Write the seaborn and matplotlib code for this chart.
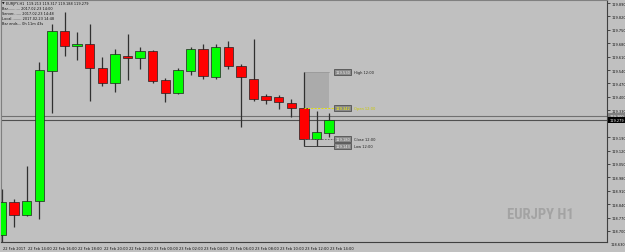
import matplotlib
matplotlib.use("Agg")
import matplotlib.pyplot as plt
import matplotlib.transforms as mtrans
import seaborn as sns
import pandas as pd
from matplotlib.patches import Rectangle

# ---------------- data ----------------
times = ["22 Feb 12:00", "22 Feb 13:00", "22 Feb 14:00", "22 Feb 15:00", "22 Feb 16:00",
         "22 Feb 17:00", "22 Feb 18:00", "22 Feb 19:00", "22 Feb 20:00", "22 Feb 21:00",
         "22 Feb 22:00", "22 Feb 23:00", "23 Feb 00:00", "23 Feb 01:00", "23 Feb 02:00",
         "23 Feb 03:00", "23 Feb 04:00", "23 Feb 05:00", "23 Feb 06:00", "23 Feb 07:00",
         "23 Feb 08:00", "23 Feb 09:00", "23 Feb 10:00", "23 Feb 11:00", "23 Feb 12:00",
         "23 Feb 13:00", "23 Feb 14:00"]
opens = [118.679, 118.851, 118.783, 118.857, 119.535, 119.744, 119.666, 119.676, 119.551,
         119.472, 119.613, 119.603, 119.640, 119.488, 119.420, 119.535, 119.650, 119.504,
         119.660, 119.561, 119.493, 119.405, 119.399, 119.368, 119.342, 119.180, 119.213]
highs = [118.919, 118.867, 119.039, 119.582, 119.780, 119.843, 119.739, 119.780, 119.608,
         119.650, 119.728, 119.660, 119.645, 119.499, 119.551, 119.660, 119.676, 119.676,
         119.692, 119.572, 119.702, 119.415, 119.410, 119.389, 119.530, 119.326, 119.317]
lows = [118.640, 118.721, 118.778, 118.763, 119.316, 119.613, 119.593, 119.379, 119.457,
        119.426, 119.488, 119.546, 119.472, 119.373, 119.415, 119.514, 119.493, 119.493,
        119.546, 119.243, 119.379, 119.363, 119.337, 119.295, 119.143, 119.143, 119.188]
closes = [118.851, 118.783, 118.857, 119.540, 119.744, 119.666, 119.676, 119.551, 119.472,
          119.624, 119.603, 119.640, 119.483, 119.420, 119.540, 119.650, 119.509, 119.660,
          119.561, 119.504, 119.389, 119.384, 119.373, 119.342, 119.180, 119.217, 119.279]

xtick_labels = ["22 Feb 2017", "22 Feb 14:00", "22 Feb 16:00", "22 Feb 18:00", "22 Feb 20:00",
                "22 Feb 22:00", "23 Feb 00:00", "23 Feb 02:00", "23 Feb 04:00", "23 Feb 06:00",
                "23 Feb 08:00", "23 Feb 10:00", "23 Feb 12:00", "23 Feb 14:00"]
ytick_values = [119.890, 119.820, 119.750, 119.680, 119.610, 119.540, 119.470, 119.400,
                119.330, 119.190, 119.120, 119.050, 118.980, 118.910, 118.840, 118.770,
                118.700]
ytick_extra = [118.630]

bid_price = 119.279
line_price = 119.300
range_labels = ["High 12:00", "Open 12:00", "Close 12:00", "Low 12:00"]
range_prices = [119.530, 119.342, 119.180, 119.143]

header_lines = ["EURJPY,H1  119.213 119.317 119.188 119.279",
                "Bar........... 2017.02.23 14:00",
                "Server....... 2017.02.23 14:48",
                "Local......... 2017.02.23 14:48",
                "Bar ends... 0h 11m 43s"]
watermark = "EURJPY H1"

df = pd.DataFrame({"time": times, "open": opens, "high": highs, "low": lows, "close": closes})
df["idx"] = range(len(df))

# ---------------- styling ----------------
sns.set_style("white")
plt.rcParams["font.family"] = ["DejaVu Sans"]
BG = "#c0c0c0"
W, H = 625, 253
FS_X = 2.6
FS_Y = 2.5

fig = plt.figure(figsize=(6.25, 2.53), dpi=100)
fig.patch.set_facecolor(BG)
ax_l, ax_r, ax_t, ax_b = 1, 607, 1, 243
ax = fig.add_axes([ax_l / W, 1 - ax_b / H, (ax_r - ax_l) / W, (ax_b - ax_t) / H])
ax.set_facecolor(BG)

step = 12.6
xmin = -(1.5 - ax_l) / step
xmax = xmin + (ax_r - ax_l) / step
ax.set_xlim(xmin, xmax)
ppx = 0.00522
ytop = 119.9109 - ppx * ax_t
ybot = 119.9109 - ppx * ax_b
ax.set_ylim(ybot, ytop)

# horizontal lines
ax.axhline(line_price, color="#707070", lw=0.8, zorder=1)
ax.axhline(bid_price, color="#505050", lw=0.8, zorder=1)

# range box (12:00 bar)
i24 = 24
ax.add_patch(Rectangle((i24, range_prices[1]), 2.0, range_prices[0] - range_prices[1],
                       facecolor="#ababab", edgecolor="none", zorder=1.5))
ax.plot([i24, i24 + 2.0], [range_prices[0], range_prices[0]], color="#9a9a9a", lw=0.6, zorder=1.6)
ax.plot([i24, i24 + 2.4], [range_prices[1], range_prices[1]], color="#e0e000", lw=0.7,
        ls=(0, (2, 1.5)), zorder=4)
ax.plot([i24, i24 + 2.4], [range_prices[2], range_prices[2]], color="#606060", lw=0.6,
        ls=(0, (2, 1.5)), zorder=4)
ax.plot([i24, i24 + 2.4], [range_prices[3], range_prices[3]], color="#404040", lw=0.7, zorder=4)

# candles
wick_c = "#303030"
for _, r in df.iterrows():
    i = r["idx"]
    ax.vlines(i, r["low"], r["high"], color=wick_c, lw=0.9, zorder=2)
    up = r["close"] >= r["open"]
    lo = min(r["open"], r["close"])
    hgt = max(abs(r["close"] - r["open"]), 0.004)
    ax.add_patch(Rectangle((i - 0.37, lo), 0.74, hgt, facecolor="#00ff00" if up else "#ff0000",
                           edgecolor="#202020", lw=0.5, zorder=3))

# range labels
for lab, pr in zip(range_labels, range_prices):
    xb = i24 + 2.45
    yellow = lab.startswith("Open")
    ax.text(xb + 0.05, pr, f"{pr:.3f}", fontsize=2.6, va="center", ha="left",
            color="#ffff00" if yellow else "#f0f0f0", zorder=6,
            bbox=dict(boxstyle="square,pad=0.3", fc="#8a8a8a", ec="#404040", lw=0.5))
    ax.text(xb + 1.5, pr, lab, fontsize=2.6, va="center", ha="left",
            color="#c8c800" if yellow else "#202020", zorder=6)

# x axis ticks
ax.set_xticks(range(0, len(times), 2))
ax.set_xticklabels(xtick_labels, fontsize=FS_X, ha="left", color="#101010")
ax.tick_params(axis="x", length=2, width=0.6, pad=0.8, color="#303030")
offset = mtrans.ScaledTranslation(1.2 / 100, 0, fig.dpi_scale_trans)
for lbl in ax.get_xticklabels():
    lbl.set_transform(lbl.get_transform() + offset)

# y axis ticks
ax.yaxis.tick_right()
ax.set_yticks(ytick_values)
ax.set_yticklabels([f"{v:.3f}" for v in ytick_values], fontsize=FS_Y, color="#101010")
ax.tick_params(axis="y", length=2, width=0.6, pad=1.5, color="#303030")
for v in ytick_extra:
    ax.text(1.0 + 3.5 / (ax_r - ax_l), v, f"{v:.3f}", transform=ax.get_yaxis_transform(),
            fontsize=FS_Y, va="center", ha="left", color="#101010", clip_on=False)

for s in ["top", "right", "bottom", "left"]:
    ax.spines[s].set_visible(True)
    ax.spines[s].set_color("#404040")
    ax.spines[s].set_linewidth(0.8)
ax.spines["top"].set_color("#808080")
ax.spines["left"].set_color("#808080")

# price tags on right axis
for pr, fc in [(line_price, "#808080"), (bid_price, "#000000")]:
    ax.text(1.0 + 2.5 / (ax_r - ax_l), pr, f"{pr:.3f}", transform=ax.get_yaxis_transform(),
            fontsize=FS_Y, va="center", ha="left", color="#ffffff", clip_on=False, zorder=10,
            bbox=dict(boxstyle="square,pad=0.3", fc=fc, ec="none"))

# header
fig.text(1.5 / W, 1 - 4 / H, "\u25BC", fontsize=2.4, va="center", ha="left", color="#101010")
for k, line in enumerate(header_lines):
    x0 = 6 if k == 0 else 2
    fig.text(x0 / W, 1 - (4 + k * 5.0) / H, line, fontsize=2.5, va="center", ha="left",
             color="#101010")

# watermark
fig.text(507 / W, 1 - 215 / H, watermark, fontsize=10.5, fontweight="bold",
         family=["DejaVu Sans Condensed", "Roboto Condensed", "Liberation Sans Narrow",
                 "DejaVu Sans"],
         color="#a3a3a3", va="center", ha="left")

fig.savefig("out.png", dpi=100, facecolor=BG)
